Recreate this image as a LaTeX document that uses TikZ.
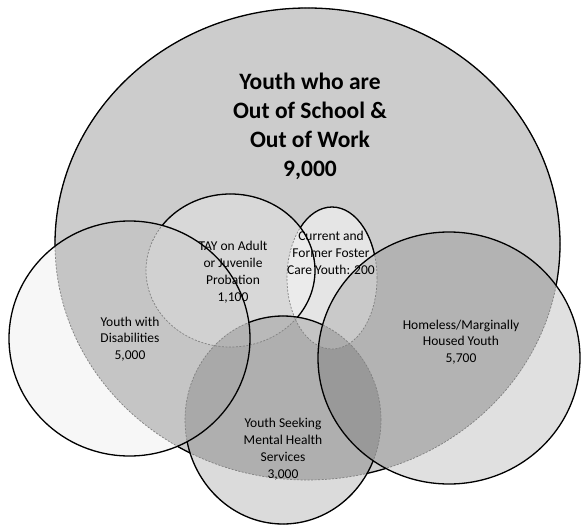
\documentclass[tikz,border=0pt]{standalone}
\usepackage{fontspec}
\setmainfont{Carlito}
\def\cBig{(307.5,244) ellipse [x radius=252.5pt, y radius=236pt]}
\def\cFos{(332,278) ellipse [x radius=45pt, y radius=71pt]}
\def\cTay{(230.5,270.5) ellipse [x radius=84.5pt, y radius=76.5pt]}
\def\cMen{(283,420) ellipse [x radius=98pt, y radius=104pt]}
\def\cDis{(129.5,338.5) ellipse [x radius=120.5pt, y radius=117.5pt]}
\def\cHom{(449,358) ellipse [x radius=131pt, y radius=126pt]}
\def\cRect{(-20,-20) rectangle (600,560)}
\begin{document}
\begin{tikzpicture}[x=1pt,y=-1pt,
  solidline/.style={draw=black,line width=1.3pt},
  hiddenline/.style={draw=black!50,line width=0.7pt,dash pattern=on 2pt off 1.5pt},
  lbl/.style={align=center,inner sep=0pt,text=black,font=\fontsize{13.5}{16.8}\selectfont},
  biglbl/.style={align=center,inner sep=0pt,text=black,font=\fontsize{23.5}{29}\selectfont\bfseries}]
\useasboundingbox (0,0) rectangle (581,527);
\fill[white] (0,0) rectangle (581,527);
% fills, bottom to top
\fill[black!20] \cBig;
\fill[white,fill opacity=0.5] \cFos;
\fill[white,fill opacity=0.25] \cTay;
\fill[black,fill opacity=0.14] \cMen;
\fill[black,fill opacity=0.03] \cDis;
\fill[black,fill opacity=0.12] \cHom;
% hidden parts of outlines
\path[hiddenline] \cBig;
\path[hiddenline] \cFos;
\path[hiddenline] \cTay;
\path[hiddenline] \cMen;
% visible parts of outlines
\begin{scope}[even odd rule]
  \clip \cRect \cMen;
  \clip \cRect \cDis;
  \clip \cRect \cHom;
  \path[solidline] \cBig;
\end{scope}
\begin{scope}[even odd rule]
  \clip \cRect \cTay;
  \clip \cRect \cMen;
  \clip \cRect \cHom;
  \path[solidline] \cFos;
\end{scope}
\begin{scope}[even odd rule]
  \clip \cRect \cMen;
  \clip \cRect \cDis;
  \path[solidline] \cTay;
\end{scope}
\begin{scope}[even odd rule]
  \clip \cRect \cDis;
  \clip \cRect \cHom;
  \path[solidline] \cMen;
\end{scope}
\path[solidline] \cDis;
\path[solidline] \cHom;
% labels
\node[biglbl] (tbig) at (310,126) {Youth who are\\Out of School \&\\Out of Work\\9,000};
\node[lbl] (tdis) at (130,339) {Youth with\\Disabilities\\5,000};
\node[lbl] (ttay) at (233,272) {TAY on Adult\\or Juvenile\\Probation\\1,100};
\node[lbl] (tfos) at (331,253) {Current and\\Former Foster\\Care Youth: 200};
\node[lbl] (thom) at (461,342) {Homeless/Marginally\\Housed Youth\\5,700};
\node[lbl] (tmen) at (283,449) {Youth Seeking\\Mental Health\\Services\\3,000};
\end{tikzpicture}
\end{document}
